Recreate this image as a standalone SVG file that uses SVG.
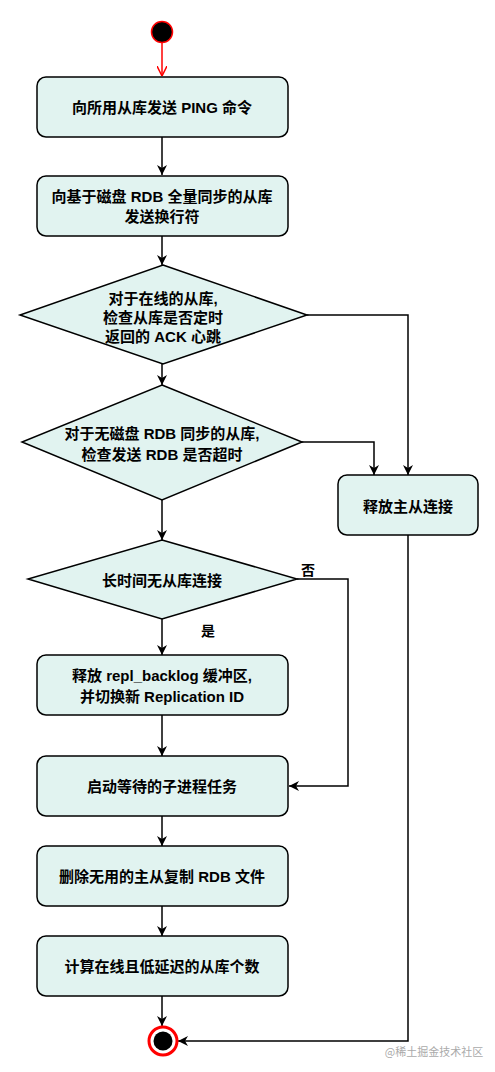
<svg xmlns="http://www.w3.org/2000/svg" width="495" height="1072" viewBox="0 0 495 1072">
<style>
.n{fill:#e1f3f0;stroke:#000;stroke-width:1.5}
.t{font-family:"Liberation Sans","Noto Sans CJK SC",sans-serif;font-size:15px;font-weight:bold;fill:#000;text-anchor:middle;dominant-baseline:central}
.c{fill:none;stroke:#000;stroke-width:1.5}
</style>
<defs>
<marker id="a" viewBox="0 0 10 10" refX="10" refY="5" markerWidth="10" markerHeight="10" markerUnits="userSpaceOnUse" orient="auto">
<path d="M0,0 L10,5 L0,10 L3,5 Z" fill="#000"/>
</marker>
<marker id="r" viewBox="0 0 10 10" refX="10" refY="5" markerWidth="10" markerHeight="10" markerUnits="userSpaceOnUse" orient="auto">
<path d="M0,0 L10,5 L0,10" fill="none" stroke="#f00" stroke-width="1.5"/>
</marker>
</defs>
<g id="connectors">
<path d="M162,43 V76" fill="none" stroke="#f00" stroke-width="1.5" marker-end="url(#r)"/>
<path class="c" d="M162,137 V175" marker-end="url(#a)"/>
<path class="c" d="M162,236 V265" marker-end="url(#a)"/>
<path class="c" d="M162,364 V385" marker-end="url(#a)"/>
<path class="c" d="M307,315 H408 V475" marker-end="url(#a)"/>
<path class="c" d="M302,442 H374 V475" marker-end="url(#a)"/>
<path class="c" d="M162,500 V540" marker-end="url(#a)"/>
<path class="c" d="M162,619 V655" marker-end="url(#a)"/>
<path class="c" d="M297,579 H348 V786 H289" marker-end="url(#a)"/>
<path class="c" d="M162,715 V756" marker-end="url(#a)"/>
<path class="c" d="M162,816 V846" marker-end="url(#a)"/>
<path class="c" d="M162,906 V936" marker-end="url(#a)"/>
<path class="c" d="M162,996 V1026" marker-end="url(#a)"/>
<path class="c" d="M408,535 V1041 H178" marker-end="url(#a)"/>
<text x="308" y="570" class="t" style="font-size:14px">否</text>
<text x="208" y="631" class="t" style="font-size:14px">是</text>
</g>
<g id="start">
<circle cx="162" cy="32" r="10.5" fill="#000" stroke="#f00" stroke-width="1.5"/>
</g>
<g id="n1">
<rect class="n" x="37" y="77" width="251" height="60" rx="9"/>
<text class="t" x="162" y="107">向所用从库发送 PING 命令</text>
</g>
<g id="n2">
<rect class="n" x="37" y="176" width="251" height="60" rx="9"/>
<text class="t" x="162" y="196">向基于磁盘 RDB 全量同步的从库</text>
<text class="t" x="162" y="216">发送换行符</text>
</g>
<g id="d1">
<polygon class="n" points="163,265 307,315 163,364 20,315"/>
<text class="t" x="163" y="298">对于在线的从库,</text>
<text class="t" x="163" y="317">检查从库是否定时</text>
<text class="t" x="163" y="336">返回的 ACK 心跳</text>
</g>
<g id="d2">
<polygon class="n" points="162,385 302,442 162,500 22,442"/>
<text class="t" x="162" y="433">对于无磁盘 RDB 同步的从库,</text>
<text class="t" x="162" y="454">检查发送 RDB 是否超时</text>
</g>
<g id="n3">
<rect class="n" x="338" y="475" width="140" height="60" rx="9"/>
<text class="t" x="408" y="506">释放主从连接</text>
</g>
<g id="d3">
<polygon class="n" points="162,540 297,579 162,619 28,579"/>
<text class="t" x="162" y="580">长时间无从库连接</text>
</g>
<g id="n4">
<rect class="n" x="37" y="655" width="251" height="60" rx="9"/>
<text class="t" x="162" y="675">释放 repl_backlog 缓冲区,</text>
<text class="t" x="162" y="696">并切换新 Replication ID</text>
</g>
<g id="n5">
<rect class="n" x="37" y="756" width="251" height="60" rx="9"/>
<text class="t" x="162" y="786">启动等待的子进程任务</text>
</g>
<g id="n6">
<rect class="n" x="37" y="846" width="251" height="60" rx="9"/>
<text class="t" x="162" y="876">删除无用的主从复制 RDB 文件</text>
</g>
<g id="n7">
<rect class="n" x="37" y="936" width="251" height="60" rx="9"/>
<text class="t" x="162" y="966">计算在线且低延迟的从库个数</text>
</g>
<g id="end">
<circle cx="163" cy="1041" r="14" fill="#fff" stroke="#f00" stroke-width="3"/>
<circle cx="163" cy="1041" r="9.5" fill="#000"/>
</g>
<text x="434" y="1051" style="font-family:'Noto Sans CJK SC',sans-serif;font-size:11px;fill:#aaa;text-anchor:middle;dominant-baseline:central">@稀土掘金技术社区</text>
</svg>
